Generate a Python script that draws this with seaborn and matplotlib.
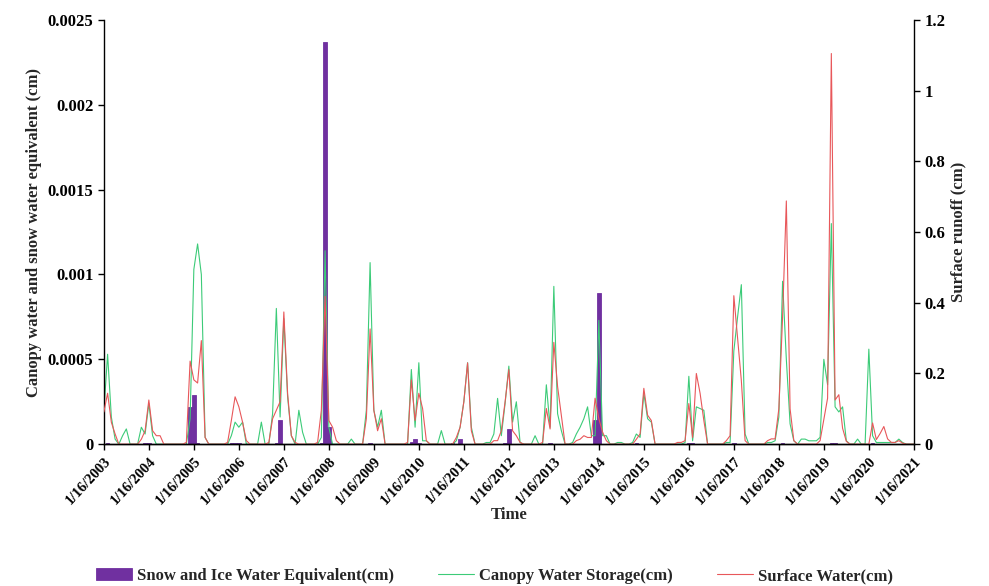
import numpy as np
import pandas as pd
import matplotlib
matplotlib.use('Agg')
import matplotlib.pyplot as plt
import seaborn as sns

# 月度数据 2003-01 ~ 2021-01，每年12个值
years = list(range(2003, 2022))
tick_labels = ['1/16/%d' % y for y in years]

snow_ice = [
    0, 0.000005, 0, 0, 0, 0, 0, 0, 0, 0, 0, 0.000005,                      # 2003
    0.000005, 0, 0, 0, 0, 0, 0, 0, 0, 0, 0, 0.00022,                       # 2004
    0.00029, 0.000005, 0, 0, 0, 0, 0, 0, 0, 0, 0.000005, 0.000005,         # 2005
    0.000005, 0, 0, 0, 0, 0, 0, 0, 0, 0, 0.000005, 0.00014,                # 2006
    0, 0, 0, 0, 0, 0, 0, 0, 0, 0, 0.000005, 0.00237,                       # 2007
    0.0001, 0, 0, 0, 0, 0, 0, 0, 0, 0, 0, 0.000005,                        # 2008
    0, 0, 0, 0, 0, 0, 0, 0, 0, 0, 0.00001, 0.00003,                        # 2009
    0.000005, 0, 0, 0, 0, 0, 0, 0, 0, 0.000005, 0, 0.00003,                # 2010
    0, 0, 0, 0, 0, 0, 0, 0, 0, 0, 0, 0.000005,                             # 2011
    0.00009, 0, 0, 0, 0, 0, 0, 0, 0, 0, 0, 0.000005,                       # 2012
    0, 0, 0, 0, 0, 0, 0, 0, 0, 0, 0, 0.00014,                              # 2013
    0.00089, 0, 0, 0, 0, 0, 0, 0, 0, 0, 0.000005, 0,                       # 2014
    0, 0, 0, 0, 0, 0, 0, 0, 0, 0, 0, 0,                                    # 2015
    0.000005, 0.000005, 0, 0, 0, 0, 0, 0, 0, 0, 0, 0,                      # 2016
    0.000005, 0, 0, 0, 0, 0, 0, 0, 0, 0, 0, 0,                             # 2017
    0, 0.000005, 0, 0, 0, 0, 0, 0, 0, 0, 0, 0,                             # 2018
    0, 0, 0.000005, 0.000005, 0, 0, 0, 0, 0, 0, 0, 0,                      # 2019
    0, 0.000005, 0, 0, 0, 0, 0, 0, 0, 0, 0, 0,                             # 2020
    0,                                                                     # 2021
]

canopy = [
    0.00019, 0.00053, 0.00016, 0.00003, 0, 0.00005, 0.00009, 0, 0, 0, 0.0001, 0.00006,
    0.00024, 0.00005, 0, 0, 0, 0, 0, 0, 0, 0, 0, 0.00015,
    0.00103, 0.00118, 0.001, 0.00004, 0, 0, 0, 0, 0, 0, 0.00005, 0.00013,
    0.0001, 0.00013, 0, 0, 0, 0, 0.00013, 0, 0, 0.00018, 0.0008, 0.00016,
    0.00074, 0.00028, 0.00005, 0, 0.0002, 0.00007, 0, 0, 0, 0, 0.00004, 0.00114,
    0.0001, 0, 0, 0, 0, 0, 0.00003, 0, 0, 0, 0.0002, 0.00107,
    0.0002, 0.0001, 0.0002, 0, 0, 0, 0, 0, 0, 0, 0.00044, 0.0001,
    0.00048, 0.00002, 0.00002, 0, 0, 0, 0.00008, 0, 0, 0, 0.00002, 0.0001,
    0.00025, 0.00048, 0.0001, 0, 0, 0, 0.00001, 0.00001, 0.00006, 0.00027, 0.00005, 0.00024,
    0.00046, 0.00013, 0.00025, 0.00001, 0, 0, 0, 0.00005, 0, 0, 0.00035, 0.0001,
    0.00093, 0.00018, 0.00008, 0, 0, 0.00001, 0.00006, 0.0001, 0.00015, 0.00022, 0.00005, 0.00005,
    0.00073, 0.00005, 0.00005, 0, 0, 0.00001, 0.00001, 0, 0, 0.00001, 0.00006, 0.00004,
    0.0003, 0.00015, 0.00013, 0, 0, 0, 0, 0, 0, 0, 0, 0.00001,
    0.0004, 0.00002, 0.00022, 0.00021, 0.0002, 0, 0, 0, 0, 0, 0.00001, 0.00001,
    0.00055, 0.00075, 0.00094, 0.00006, 0, 0, 0, 0, 0, 0.00001, 0.00001, 0.00002,
    0.00016, 0.00096, 0.0005, 0.00012, 0.00002, 0, 0.00003, 0.00003, 0.00002, 0.00002, 0.00002, 0.00004,
    0.0005, 0.00035, 0.0013, 0.00022, 0.00019, 0.00022, 0.00002, 0, 0, 0.00003, 0, 0,
    0.00056, 0.00005, 0.00001, 0.00001, 0.00001, 0.00001, 0.00001, 0.00001, 0.00003, 0.00001, 0, 0,
    0,
]

surface = [
    0.091, 0.144, 0.062, 0.029, 0, 0, 0, 0, 0, 0, 0.014, 0.038,
    0.125, 0.038, 0.024, 0.024, 0, 0, 0, 0, 0, 0, 0.005, 0.235,
    0.182, 0.173, 0.293, 0.019, 0, 0, 0, 0, 0, 0.005, 0.067, 0.134,
    0.106, 0.062, 0.01, 0, 0, 0, 0, 0, 0.005, 0.072, 0.096, 0.12,
    0.374, 0.144, 0.024, 0.005, 0, 0, 0, 0, 0, 0.005, 0.096, 0.418,
    0.067, 0.048, 0.01, 0, 0, 0, 0, 0, 0, 0, 0.072, 0.326,
    0.096, 0.038, 0.072, 0, 0, 0, 0, 0, 0, 0.005, 0.182, 0.067,
    0.144, 0.101, 0.01, 0, 0, 0, 0, 0, 0, 0, 0.019, 0.048,
    0.12, 0.23, 0.038, 0, 0, 0, 0, 0, 0.01, 0.01, 0.038, 0.12,
    0.211, 0.038, 0.024, 0.005, 0, 0, 0, 0, 0, 0.005, 0.101, 0.043,
    0.288, 0.163, 0.082, 0, 0, 0, 0.01, 0.014, 0.024, 0.019, 0.019, 0.13,
    0.072, 0.034, 0.01, 0, 0, 0, 0, 0, 0, 0, 0.014, 0.029,
    0.158, 0.082, 0.067, 0, 0, 0, 0, 0, 0, 0.005, 0.005, 0.01,
    0.115, 0.019, 0.2, 0.144, 0.067, 0, 0, 0, 0, 0, 0.01, 0.024,
    0.42, 0.3, 0.18, 0.01, 0, 0, 0, 0, 0, 0.01, 0.015, 0.015,
    0.1, 0.36, 0.688, 0.1, 0.01, 0, 0, 0, 0, 0, 0, 0.01,
    0.07, 0.13, 1.105, 0.125, 0.14, 0.045, 0.008, 0, 0, 0, 0, 0,
    0, 0.06, 0.013, 0.03, 0.05, 0.015, 0.005, 0.005, 0.01, 0.003, 0, 0,
    0,
]

bar_color = '#7030a0'
green = '#3ccb78'
red = '#e8575a'

df = pd.DataFrame({'month': np.arange(len(canopy)), 'snow': snow_ice,
                   'canopy': canopy, 'surface': surface})

sns.set_style('ticks')
plt.rcParams['font.family'] = ['Liberation Serif', 'DejaVu Serif']
plt.rcParams['font.weight'] = 'bold'
plt.rcParams['axes.labelweight'] = 'bold'

fig = plt.figure(figsize=(9.89, 5.86), dpi=100)
ax = fig.add_axes([0.105, 0.242, 0.819, 0.724])

sns.barplot(data=df, x='month', y='snow', native_scale=True, color=bar_color,
            saturation=1, width=0.9, errorbar=None, edgecolor=bar_color,
            linewidth=0.6, ax=ax, label='Snow and Ice Water Equivalent(cm)')
sns.lineplot(data=df, x='month', y='canopy', color=green, linewidth=0.8,
             ax=ax, label='Canopy Water Storage(cm)')

ax2 = ax.twinx()
sns.lineplot(data=df, x='month', y='surface', color=red, linewidth=0.8,
             ax=ax2, label='Surface Water(cm)')

h1, l1 = ax.get_legend_handles_labels()
h2, l2 = ax2.get_legend_handles_labels()
for a in (ax, ax2):
    if a.get_legend() is not None:
        a.get_legend().remove()
# 柱状图图例放在最前
pairs = dict(zip(l1 + l2, h1 + h2))
order = ['Snow and Ice Water Equivalent(cm)', 'Canopy Water Storage(cm)', 'Surface Water(cm)']

ax.set_xlim(0, 216)
ax.set_ylim(0, 0.0025)
ax2.set_ylim(0, 1.2)

ax.set_xticks(range(0, 217, 12))
ax.set_xticklabels(tick_labels, rotation=47, ha='right', rotation_mode='anchor', fontsize=10.5)
ax.set_yticks([0, 0.0005, 0.001, 0.0015, 0.002, 0.0025])
ax.set_yticklabels(['0', '0.0005', '0.001', '0.0015', '0.002', '0.0025'], fontsize=12)
ax2.set_yticks([0, 0.2, 0.4, 0.6, 0.8, 1.0, 1.2])
ax2.set_yticklabels(['0', '0.2', '0.4', '0.6', '0.8', '1', '1.2'], fontsize=12)

ax.set_xlabel('Time', fontsize=12)
ax.xaxis.set_label_coords(0.5, -0.148)
ax.set_ylabel('Canopy water and snow water equivalent (cm)', fontsize=12)
ax2.set_ylabel('Surface runoff (cm)', fontsize=12)

for a in (ax, ax2):
    a.spines['top'].set_visible(False)
    for s in ('left', 'right', 'bottom'):
        a.spines[s].set_color('black')
        a.spines[s].set_linewidth(1.0)
    a.tick_params(direction='out', length=4, width=1, colors='black')
ax.spines['right'].set_visible(False)
ax2.spines['left'].set_visible(False)

fig.legend([pairs[k] for k in order], order, loc='lower center',
           bbox_to_anchor=(0.5, -0.022), ncol=3, frameon=False, fontsize=12,
           columnspacing=2.6, handlelength=2.2, handletextpad=0.3)

fig.savefig('out.png', dpi=100, facecolor='white')
